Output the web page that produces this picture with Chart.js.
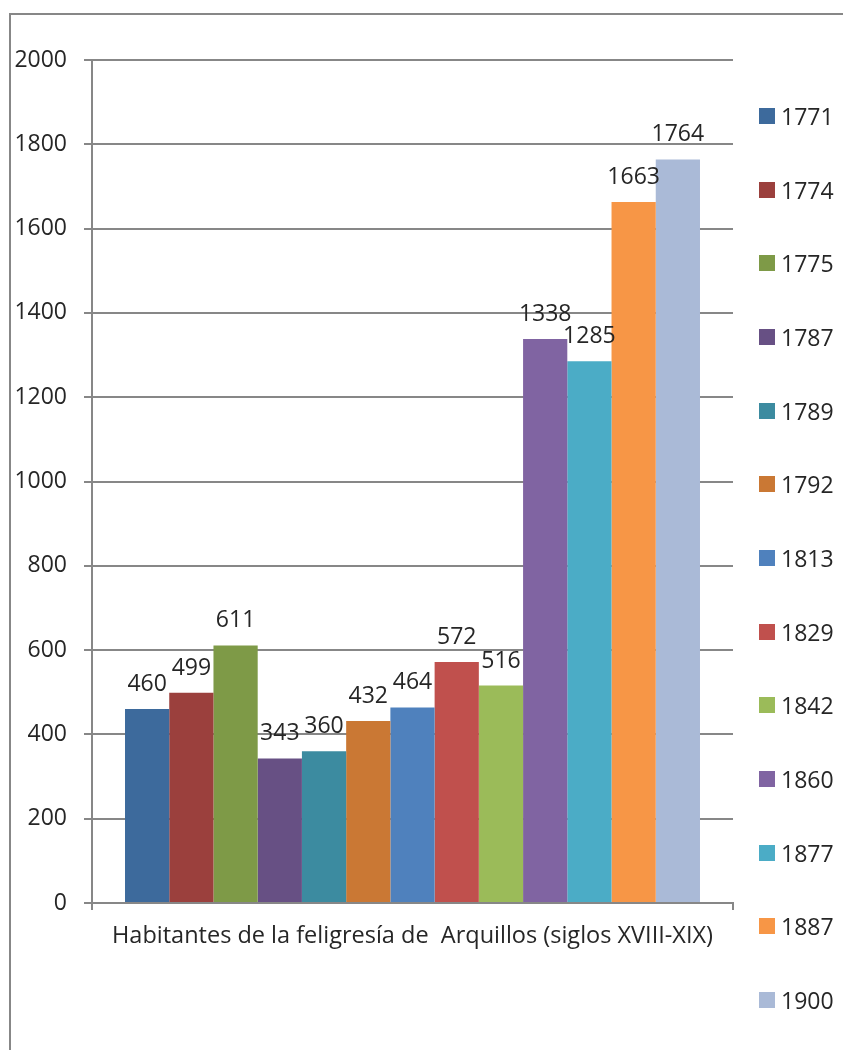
<!DOCTYPE html>
<html>
<head>
<meta charset="utf-8">
<script src="https://cdn.jsdelivr.net/npm/chart.js@4.4.1/dist/chart.umd.min.js"></script>
<style>
  html, body { margin: 0; padding: 0; background: #fff; }
  body { width: 843px; height: 1050px; position: relative; overflow: hidden; }
  #marco { position: absolute; left: 9px; top: 13px; width: 850px; height: 1050px;
           border-top: 2px solid #878787; border-left: 2px solid #878787; }
  #grafico { position: absolute; left: 0; top: 0; }
  #leyenda { position: absolute; left: 759px; top: 79px; margin: 0; padding: 0; list-style: none;
             font-family: 'Open Sans', sans-serif; font-size: 23px; color: #262626; }
  #leyenda li { height: 73.7px; display: flex; align-items: center; }
  #leyenda span.caja { width: 16px; height: 16px; margin-right: 6px; display: inline-block; }
</style>
</head>
<body>
<div id="marco"></div>
<canvas id="grafico" width="843" height="1050"></canvas>
<ul id="leyenda"></ul>
<script>
// datos
const categorias = ['Habitantes de la feligresía de  Arquillos (siglos XVIII-XIX)'];
const anios = ['1771', '1774', '1775', '1787', '1789', '1792', '1813', '1829', '1842', '1860', '1877', '1887', '1900'];
const habitantes = [460, 499, 611, 343, 360, 432, 464, 572, 516, 1338, 1285, 1663, 1764];
const colores = ['#3D6A9C', '#9B403D', '#7E9A47', '#675084', '#3C8BA0', '#CA7834',
                 '#4F81BD', '#C0504D', '#9BBB59', '#8064A2', '#4BACC6', '#F79646', '#AABAD7'];
const marcasY = [0, 200, 400, 600, 800, 1000, 1200, 1400, 1600, 1800, 2000];

Chart.defaults.font.family = "'Open Sans', sans-serif";
Chart.defaults.font.size = 23;
Chart.defaults.color = '#262626';

const gris = '#878787';

// etiqueta con el valor encima de cada barra
const etiquetasBarras = {
  id: 'etiquetasBarras',
  afterDatasetsDraw(chart) {
    const ctx = chart.ctx;
    ctx.save();
    ctx.font = "23px 'Open Sans', sans-serif";
    ctx.fillStyle = '#262626';
    ctx.textAlign = 'center';
    ctx.textBaseline = 'alphabetic';
    chart.data.datasets.forEach((dataset, i) => {
      chart.getDatasetMeta(i).data.forEach((barra, j) => {
        ctx.fillText(dataset.data[j], barra.x, barra.y - 18);
      });
    });
    ctx.restore();
  }
};

const grafico = new Chart(document.getElementById('grafico'), {
  type: 'bar',
  data: {
    labels: categorias,
    datasets: anios.map((anio, i) => ({
      label: anio,
      data: [habitantes[i]],
      backgroundColor: colores[i],
      borderWidth: 0
    }))
  },
  options: {
    responsive: false,
    animation: false,
    devicePixelRatio: 1,
    categoryPercentage: 0.897,
    barPercentage: 1,
    layout: { padding: { top: 60, right: 110, bottom: 0, left: 0 } },
    plugins: {
      legend: { display: false },
      tooltip: { enabled: false }
    },
    scales: {
      x: {
        grid: { offset: true, drawOnChartArea: false, color: gris, lineWidth: 2, tickLength: 7 },
        border: { color: gris, width: 2 },
        ticks: { padding: 12, maxRotation: 0, font: { size: 23.5 } },
        afterFit(escala) { escala.height = 147; }
      },
      y: {
        min: 0,
        max: 2000,
        afterBuildTicks(escala) { escala.ticks = marcasY.map(v => ({ value: v })); },
        grid: { color: gris, lineWidth: 2, tickLength: 8 },
        border: { color: gris, width: 2 },
        ticks: { padding: 17, callback: v => String(v) },
        afterFit(escala) { escala.width = 92; }
      }
    }
  },
  plugins: [etiquetasBarras]
});

// leyenda en html a partir de los datasets
const leyenda = document.getElementById('leyenda');
grafico.data.datasets.forEach(ds => {
  const li = document.createElement('li');
  const caja = document.createElement('span');
  caja.className = 'caja';
  caja.style.background = ds.backgroundColor;
  li.appendChild(caja);
  li.appendChild(document.createTextNode(ds.label));
  leyenda.appendChild(li);
});
</script>
</body>
</html>
